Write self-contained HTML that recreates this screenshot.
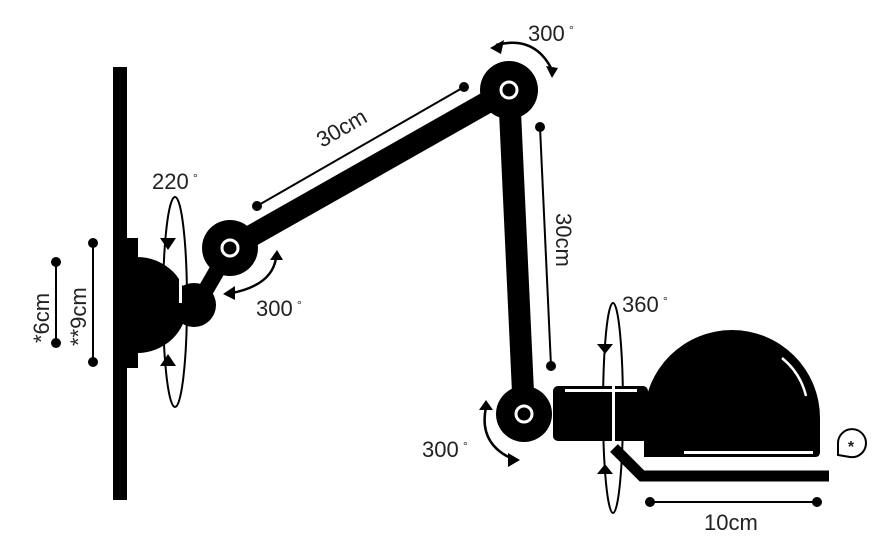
<!DOCTYPE html>
<html><head><meta charset="utf-8"><style>
html,body{margin:0;padding:0;background:#fff;}
svg{display:block;}
text{font-family:"Liberation Sans",sans-serif;fill:#222;font-size:22px;}
</style></head><body>
<svg width="882" height="543" viewBox="0 0 882 543" xmlns="http://www.w3.org/2000/svg">
<!-- wall -->
<rect x="113" y="67" width="14" height="433" fill="#000"/>
<rect x="126" y="238" width="12" height="130" fill="#000"/>
<path d="M137,257 A50,48 0 0 1 137,353 z" fill="#000"/>
<circle cx="194" cy="305" r="22" fill="#000"/>
<line x1="200" y1="300" x2="230" y2="248" stroke="#000" stroke-width="16"/>
<rect x="179" y="278" width="3" height="25" fill="#fff"/>
<ellipse cx="175" cy="302" rx="12" ry="105" fill="none" stroke="#000" stroke-width="2"/>
<path d="M160,238 L176,238 L168,250 z" fill="#000"/>
<path d="M160,366 L176,366 L168,354 z" fill="#000"/>
<!-- arms -->
<line x1="230" y1="248" x2="509" y2="90" stroke="#000" stroke-width="22"/>
<line x1="509" y1="90" x2="524" y2="414" stroke="#000" stroke-width="22"/>
<circle cx="230" cy="248" r="28" fill="#000"/>
<circle cx="230" cy="248" r="8" fill="none" stroke="#fff" stroke-width="3"/>
<circle cx="509" cy="90" r="29" fill="#000"/>
<circle cx="509" cy="90" r="8" fill="none" stroke="#fff" stroke-width="3"/>
<circle cx="524" cy="414" r="28" fill="#000"/>
<circle cx="524" cy="414" r="8" fill="none" stroke="#fff" stroke-width="3"/>
<!-- dimension lines -->
<g stroke="#000" stroke-width="2" fill="#000">
<line x1="257" y1="206" x2="464" y2="87"/><circle cx="257" cy="206" r="4"/><circle cx="464" cy="87" r="4"/>
<line x1="540" y1="127" x2="551" y2="366"/><circle cx="540" cy="127" r="4"/><circle cx="551" cy="366" r="4"/>
<line x1="56" y1="262" x2="56" y2="343"/><circle cx="56" cy="262" r="4"/><circle cx="56" cy="343" r="4"/>
<line x1="93" y1="243" x2="93" y2="362"/><circle cx="93" cy="243" r="4"/><circle cx="93" cy="362" r="4"/>
<line x1="650" y1="502" x2="817" y2="502"/><circle cx="650" cy="502" r="4"/><circle cx="817" cy="502" r="4"/>
</g>
<!-- rotation arrows -->
<g fill="none" stroke="#000" stroke-width="2.5">
<path d="M496,45 Q535,35 552,70"/>
<path d="M276,258 Q272,285 232,293"/>
<path d="M486,407 Q478,445 515,460"/>
</g>
<path d="M490,48 L504,40 L501,54 z" fill="#000"/>
<path d="M546,66 L558,68 L552,78 z" fill="#000"/>
<path d="M270,260 L283,260 L277,250 z" fill="#000"/>
<path d="M223,294 L235,286 L235,300 z" fill="#000"/>
<path d="M479,410 L493,410 L486,400 z" fill="#000"/>
<path d="M520,460 L508,453 L508,467 z" fill="#000"/>
<!-- lamp head -->
<ellipse cx="613" cy="408" rx="10" ry="105" fill="none" stroke="#000" stroke-width="2"/>
<path d="M597,344 L613,344 L605,354 z" fill="#000"/>
<path d="M597,474 L613,474 L605,464 z" fill="#000"/>
<rect x="553" y="386" width="95" height="55" rx="5" fill="#000"/>
<rect x="565" y="389" width="72" height="3" fill="#fff"/>
<rect x="612" y="380" width="3" height="66" fill="#fff"/>
<path d="M644,457 L644,418 A88,88 0 0 1 820,418 L820,452 Q820,457 815,457 z" fill="#000"/>
<rect x="684" y="451" width="129" height="3" fill="#fff"/>
<path d="M782,358 A70,70 0 0 1 806,396" fill="none" stroke="#fff" stroke-width="2.5"/>
<path d="M614,448 L642,476 L829,476" fill="none" stroke="#000" stroke-width="11"/>
<!-- badge -->
<path d="M838,455 L838,443 A14,14 0 1 1 850,457 z" fill="none" stroke="#000" stroke-width="2"/>
<text x="851" y="452" text-anchor="middle" style="font-size:16px;font-weight:bold">*</text>
<!-- labels -->
<text x="528" y="41">300</text><text x="569" y="34" style="font-size:12px">°</text>
<text x="152" y="189">220</text><text x="193" y="182" style="font-size:12px">°</text>
<text x="256" y="316">300</text><text x="297" y="309" style="font-size:12px">°</text>
<text x="622" y="312">360</text><text x="663" y="305" style="font-size:12px">°</text>
<text x="422" y="457">300</text><text x="463" y="450" style="font-size:12px">°</text>
<text x="704" y="530">10cm</text>
<text transform="translate(322,148) rotate(-30)">30cm</text>
<text transform="translate(556,213) rotate(90)">30cm</text>
<text transform="translate(49,343) rotate(-90)">*6cm</text>
<text transform="translate(86,346) rotate(-90)">**9cm</text>
</svg>
</body></html>
